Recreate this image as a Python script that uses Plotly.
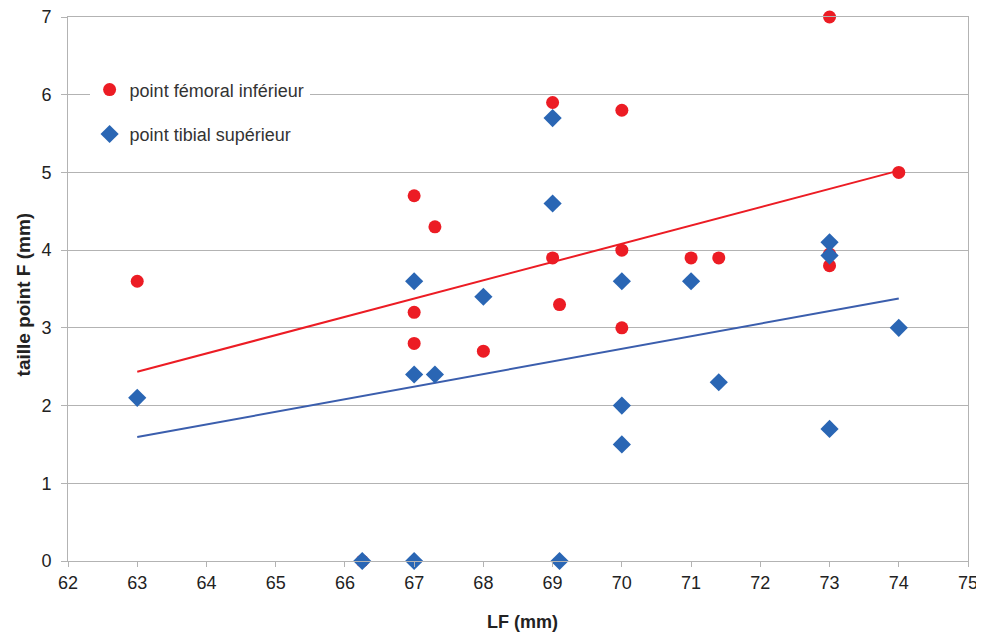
import numpy as np
import plotly.graph_objects as go

# Data
lf_femoral = [63, 66.25, 67, 67, 67, 67.3, 68, 69, 69, 69.1, 70, 70, 70, 71, 71.4, 73, 73, 73, 74]
femoral = [3.6, 0, 4.7, 3.2, 2.8, 4.3, 2.7, 5.9, 3.9, 3.3, 5.8, 4.0, 3.0, 3.9, 3.9, 7.0, 3.95, 3.8, 5.0]

lf_tibial = [63, 66.25, 67, 67, 67, 67.3, 68, 69, 69, 69.1, 70, 70, 70, 71, 71.4, 73, 73, 73, 74]
tibial = [2.1, 0, 3.6, 2.4, 0, 2.4, 3.4, 5.7, 4.6, 0, 3.6, 2.0, 1.5, 3.6, 2.3, 4.1, 3.93, 1.7, 3.0]

x_ticks = list(range(62, 76))
y_ticks = list(range(0, 8))

RED = "#ec1c24"
BLUE = "#2a66b4"
BLUE_LINE = "#3b5ead"
GRID = "#b3b3b3"
TXT = "#222222"
FONT = "Liberation Sans, Arial, sans-serif"

def trend(x, y):
    m, b = np.polyfit(np.array(x, float), np.array(y, float), 1)
    xs = np.array([min(x), max(x)], float)
    return xs, m * xs + b

fig = go.Figure()

xr, yr = trend(lf_femoral, femoral)
xb, yb = trend(lf_tibial, tibial)

fig.add_trace(go.Scatter(x=xb, y=yb, mode="lines", line=dict(color=BLUE_LINE, width=2),
                         showlegend=False, hoverinfo="skip"))
fig.add_trace(go.Scatter(x=xr, y=yr, mode="lines", line=dict(color=RED, width=2),
                         showlegend=False, hoverinfo="skip"))

fig.add_trace(go.Scatter(x=lf_femoral, y=femoral, mode="markers", name="point fémoral inférieur",
                         marker=dict(symbol="circle", size=13, color=RED), legendgroup="a",
                         cliponaxis=False))
fig.add_trace(go.Scatter(x=lf_tibial, y=tibial, mode="markers", name="point tibial supérieur",
                         marker=dict(symbol="diamond", size=14, color=BLUE), legendgroup="b",
                         cliponaxis=False))

# The page body has an 8px default margin, so the figure is sized to fit the window.
fig.update_layout(
    width=976, height=629,
    margin=dict(l=60, r=16, t=9, b=76, autoexpand=False),
    plot_bgcolor="white", paper_bgcolor="white",
    font=dict(family=FONT, size=18, color=TXT),
    legend=dict(x=0.024, y=0.9, xanchor="left", yanchor="top",
                bgcolor="white", borderwidth=0, traceorder="grouped",
                tracegroupgap=18, font=dict(size=18, color="#333333")),
    xaxis=dict(range=[62, 75], tickvals=x_ticks, showgrid=False, zeroline=False,
               showline=True, linecolor=GRID, linewidth=1, mirror=True,
               ticks="outside", ticklen=5, tickcolor=GRID, automargin=False,
               ticklabeloverflow="allow",
               tickfont=dict(size=18, color=TXT)),
    yaxis=dict(range=[0, 7], tickvals=y_ticks, showgrid=True, gridcolor=GRID, gridwidth=1,
               zeroline=False, showline=True, linecolor=GRID, linewidth=1, mirror=True,
               ticks="outside", ticklen=6, tickcolor=GRID, automargin=False,
               ticklabelstandoff=6, ticklabeloverflow="allow",
               tickfont=dict(size=18, color=TXT)),
    annotations=[
        dict(text="<b>LF (mm)</b>", xref="paper", yref="paper", x=0.505, y=-0.112,
             xanchor="center", yanchor="middle", showarrow=False,
             font=dict(size=18, color=TXT)),
        dict(text="<b>taille point F (mm)</b>", xref="paper", yref="paper", x=-0.05, y=0.49,
             xanchor="center", yanchor="middle", textangle=-90, showarrow=False,
             font=dict(size=19, color=TXT)),
    ],
)

fig.write_html("out.html")
